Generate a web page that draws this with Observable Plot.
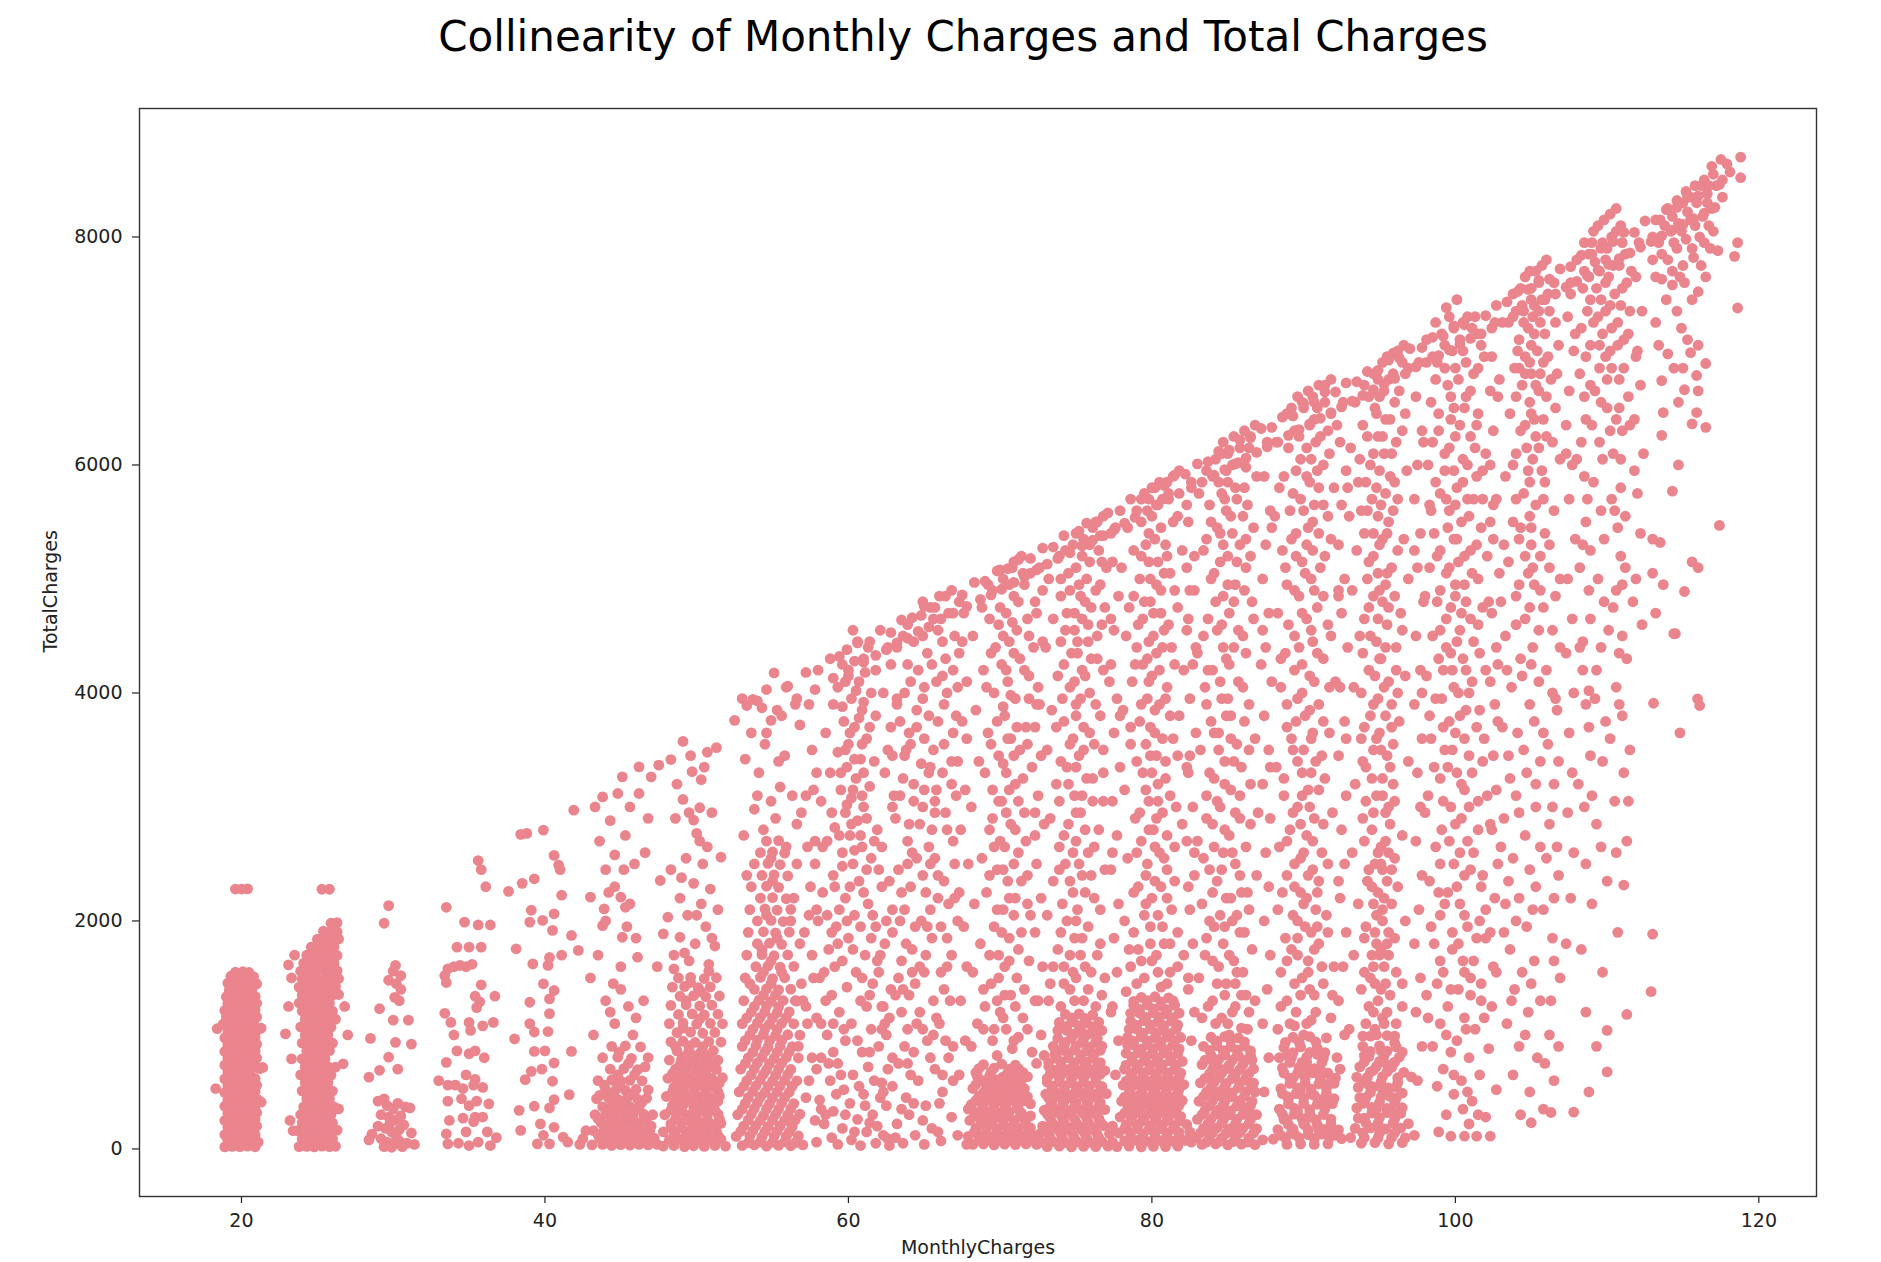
<!DOCTYPE html>
<html><head><meta charset="utf-8">
<script src="https://cdn.jsdelivr.net/npm/d3@7"></script>
<script src="https://cdn.jsdelivr.net/npm/@observablehq/plot@0.6"></script>
<style>
html,body{margin:0;padding:0;background:#fff;overflow:hidden;}
#title{box-sizing:content-box;width:1836px;padding-left:45px;height:68px;padding-top:12px;line-height:49px;font-family:"DejaVu Sans";font-size:42px;text-align:center;color:#000;white-space:nowrap;}
#chart{height:1182px;}
</style></head><body>
<div id="title">Collinearity of Monthly Charges and Total Charges</div>
<div id="chart"></div>
<script>
// [MonthlyCharges, TotalCharges], grouped by monthly-charge band
const band20 = [[18.9,18],[19.4,22],[19.9,20],[20.4,25],[20.9,19],[21.1,60],[19.1,75],[19.6,80],[20.1,70],[20.6,85],[18.9,125],[19.4,135],[19.9,128],[20.4,140],[20.9,125],[19.1,190],[19.6,185],[20.1,195],[20.6,180],[21.0,200],[18.9,250],[19.4,245],[19.9,258],[20.4,250],[20.9,262],[19.1,310],[19.6,318],[20.1,305],[20.6,315],[21.0,320],[18.9,375],[19.4,370],[19.9,380],[20.4,368],[20.9,378],[19.1,430],[19.6,440],[20.1,432],[20.6,445],[21.1,430],[18.9,495],[19.4,500],[19.9,490],[20.4,498],[20.9,505],[19.1,555],[19.6,560],[20.1,550],[20.6,565],[21.0,558],[18.9,615],[19.4,620],[19.9,612],[20.4,625],[20.9,618],[19.1,675],[19.6,680],[20.1,670],[20.6,685],[21.2,705],[18.9,735],[19.4,740],[19.9,730],[20.4,745],[20.9,738],[19.1,795],[19.6,800],[20.1,790],[20.6,805],[21.0,798],[18.9,855],[19.4,860],[19.9,850],[20.4,865],[20.9,858],[19.1,915],[19.6,920],[20.1,910],[20.6,925],[21.0,918],[18.9,975],[19.4,980],[19.9,970],[20.4,985],[20.9,978],[19.1,1035],[19.6,1040],[20.1,1030],[20.6,1045],[21.0,1038],[18.8,1095],[19.3,1100],[19.8,1090],[20.3,1105],[20.8,1098],[19.0,1155],[19.5,1160],[20.0,1150],[20.5,1165],[21.0,1158],[18.9,1215],[19.4,1220],[19.9,1210],[20.4,1225],[20.9,1218],[19.1,1275],[19.6,1280],[20.1,1270],[20.6,1285],[21.0,1278],[19.0,1335],[19.5,1340],[20.0,1330],[20.5,1345],[20.9,1338],[19.2,1395],[19.7,1400],[20.2,1390],[20.7,1405],[19.1,1455],[19.6,1460],[20.1,1450],[20.6,1465],[21.0,1448],[19.3,1515],[19.8,1525],[20.3,1520],[20.8,1510],[19.6,1550],[20.1,1555],[20.5,1548],[18.3,530],[18.4,1055],[21.4,715],[21.3,410],[21.3,1060],[19.6,2280],[20.0,2280],[20.4,2282]];

const band25 = [[23.8,20],[24.3,22],[24.8,18],[25.3,25],[25.8,20],[26.2,24],[24.0,90],[24.5,85],[25.0,95],[25.5,88],[26.0,92],[23.7,160],[24.2,165],[24.7,155],[25.2,162],[25.7,158],[26.3,165],[24.0,230],[24.5,235],[25.0,225],[25.5,232],[26.0,228],[23.9,300],[24.4,305],[24.9,295],[25.4,302],[25.9,298],[24.1,370],[24.6,375],[25.1,365],[25.6,372],[26.1,368],[24.3,440],[24.8,445],[25.3,435],[25.8,442],[24.0,510],[24.5,515],[25.0,505],[25.5,512],[26.0,508],[24.2,580],[24.7,585],[25.2,575],[25.7,582],[23.9,650],[24.4,655],[24.9,645],[25.4,652],[25.9,648],[24.2,720],[24.7,725],[25.2,715],[25.7,722],[26.2,718],[24.0,790],[24.5,795],[25.0,785],[25.5,792],[24.3,860],[24.8,865],[25.3,855],[25.8,862],[24.0,930],[24.5,935],[25.0,925],[25.5,932],[26.0,928],[24.2,1000],[24.7,1005],[25.2,995],[25.7,1002],[23.9,1070],[24.4,1075],[24.9,1065],[25.4,1072],[25.9,1068],[24.2,1140],[24.7,1145],[25.2,1135],[25.7,1142],[26.2,1138],[24.0,1210],[24.5,1215],[25.0,1205],[25.5,1212],[26.0,1208],[23.8,1280],[24.3,1285],[24.8,1275],[25.3,1282],[25.8,1278],[24.0,1350],[24.5,1355],[25.0,1345],[25.5,1352],[26.0,1348],[26.4,1355],[23.8,1420],[24.3,1425],[24.8,1415],[25.3,1422],[25.8,1418],[26.2,1425],[24.0,1490],[24.5,1495],[25.0,1485],[25.5,1492],[26.0,1488],[26.4,1495],[23.9,1560],[24.4,1565],[24.9,1555],[25.4,1562],[25.9,1558],[26.3,1565],[24.1,1630],[24.6,1635],[25.1,1625],[25.6,1632],[26.1,1628],[24.3,1700],[24.8,1705],[25.3,1695],[25.8,1702],[26.3,1698],[24.6,1770],[25.1,1775],[25.6,1765],[26.1,1772],[25.0,1840],[25.5,1845],[26.0,1835],[26.4,1842],[25.4,1910],[25.9,1915],[26.3,1905],[25.9,1980],[26.3,1985],[23.1,1614],[23.1,1250],[22.9,1010],[23.3,790],[23.2,250],[23.4,160],[26.8,1250],[26.7,747],[26.4,351],[27.0,1000],[25.3,2278],[25.8,2278],[23.5,1700],[23.3,1500]];

const band30 = [[29.7,2135],[29.4,1980],[30.15,1610],[30.0,1560],[30.5,1520],[29.7,1480],[30.2,1450],[30.5,1400],[30.1,1330],[30.4,1300],[29.1,1230],[30.0,1130],[31.0,1130],[28.5,970],[30.15,935],[31.2,920],[29.7,805],[28.4,630],[29.1,690],[30.3,700],[29.0,420],[29.4,440],[29.6,380],[30.0,350],[30.3,400],[30.8,370],[31.1,360],[29.2,300],[29.7,280],[30.1,250],[30.5,290],[29.0,200],[29.5,180],[29.9,150],[30.4,170],[30.7,210],[28.6,130],[29.2,90],[29.6,60],[30.0,40],[30.4,70],[30.9,50],[31.4,40],[29.4,20],[29.9,15],[30.6,20],[28.4,80],[31.2,140],[30.2,110],[29.8,230]];

const band35 = [[33.5,2120],[34.7,1990],[35.6,1965],[36.4,1965],[34.2,1770],[35.0,1770],[35.8,1770],[35.6,2530],[35.8,2450],[36.1,2300],[33.4,1520],[33.6,1580],[34.0,1600],[34.4,1610],[34.8,1600],[33.5,1460],[35.2,1620],[35.8,1440],[36.7,1340],[35.4,1340],[35.7,1290],[35.5,1240],[33.4,1190],[33.8,1110],[35.0,1110],[35.9,1080],[36.6,1110],[35.1,1040],[34.0,1000],[35.0,835],[35.4,860],[36.0,800],[34.2,860],[33.5,760],[34.8,650],[35.4,610],[33.0,600],[33.6,560],[34.1,560],[34.6,530],[35.3,560],[35.9,540],[33.6,420],[34.5,440],[35.0,380],[35.5,420],[36.3,396],[33.7,250],[34.6,270],[35.3,240],[35.4,280],[36.2,150],[36.8,100],[33.5,133],[33.6,45],[34.3,50],[35.0,30],[35.6,60],[36.4,30],[34.8,150],[35.9,280]];

const band40 = [[40.6,2575],[41.0,2450],[41.1,2226],[39.3,2370],[38.5,2330],[37.6,2260],[39.1,2094],[39.0,1990],[39.85,2005],[40.6,2063],[40.5,1917],[41.75,1873],[42.2,1742],[38.1,1756],[40.3,1680],[41.1,1700],[39.2,1624],[40.2,1610],[39.9,1449],[40.6,1390],[40.3,1317],[39.0,1287],[40.3,1187],[39.0,1100],[39.3,1026],[40.2,1030],[38.0,966],[39.3,856],[40.0,860],[41.75,856],[40.6,754],[39.1,681],[38.7,608],[39.8,700],[40.5,594],[41.6,477],[40.6,433],[39.3,375],[40.3,360],[38.3,339],[38.4,163],[39.7,220],[40.6,190],[39.5,45],[40.3,45],[41.2,104],[39.9,120],[41.5,60],[38.8,2768],[39.9,2797],[38.4,2760],[40.9,2490],[41.9,2972]];

const band45 = [[43.8,3088],[44.8,3118],[45.1,3264],[46.2,3352],[47.0,3264],[46.2,3118],[47.5,3367],[43.3,3000],[45.6,3000],[44.3,2880],[45.3,2750],[46.6,2600],[43.6,2700],[44.6,2580],[45.9,2500],[47.6,2355],[43.0,2209],[43.9,2106],[44.2,2250],[45.0,2209],[45.3,2120],[44.6,2300],[45.6,2150],[43.8,1959],[45.1,1857],[46.1,1682],[45.4,1950],[44.5,1450],[45.0,1600],[43.5,1700],[46.5,1300],[45.5,1250],[44.0,1300],[46.0,1150],[44.6,1100],[43.2,1000],[44.4,900],[45.3,905],[46.3,895],[43.8,800],[44.8,805],[45.7,795],[46.8,802],[44.3,700],[45.2,705],[46.1,695],[43.5,600],[44.4,605],[45.0,595],[45.6,602],[46.4,598],[44.0,520],[44.7,525],[45.3,515],[46.0,522],[46.8,518],[43.4,440],[44.2,445],[44.8,435],[45.4,442],[46.1,438],[46.7,445],[43.8,370],[44.4,375],[45.0,365],[45.6,372],[46.2,368],[43.3,300],[44.0,305],[44.6,295],[45.2,302],[45.8,298],[46.5,305],[47.1,300],[43.7,230],[44.3,235],[44.9,225],[45.5,232],[46.1,228],[46.7,235],[43.2,160],[43.9,165],[44.5,155],[45.1,162],[45.7,158],[46.3,165],[46.9,160],[43.6,95],[44.2,100],[44.8,90],[45.4,97],[46.0,93],[46.6,100],[47.2,95],[43.1,35],[43.8,40],[44.4,30],[45.0,38],[45.6,33],[46.2,40],[46.8,35],[47.4,40],[42.5,90],[42.7,160],[42.3,40],
[43.6,470],[44.5,480],[45.1,400],[45.7,480],[46.4,410],[44.1,335],[44.7,335],[45.3,265],[45.9,335],[46.5,265],[43.5,265],[44.0,195],[44.6,195],[45.2,125],[45.8,195],[46.4,125],[43.5,125],[44.1,60],[44.7,60],[45.3,60],[45.9,60],[46.5,60],[47.0,200],[44.9,560],[45.9,650],[44.8,650],[43.9,560],[45.5,750],[44.9,850],[46.6,720],[45.8,1000],[44.3,1200],[45.0,1400],[44.0,2000],[46.8,2900],[45.2,2450],[44.0,2450],[46.0,1850],[47.4,1600],[43.0,1500]];

const band50 = [[48.3,3416],[49.1,3575],[49.7,3310],[50.3,3240],[50.7,3480],[51.3,3520],[49.1,3066],[50.2,2993],[48.6,2900],[51.0,2950],[49.8,2885],[50.0,2768],[50.7,2650],[49.3,2550],[50.4,2500],[51.6,2560],[48.3,2450],[49.8,2330],[50.9,2280],[48.9,2200],[50.3,2150],[51.4,2100],[49.4,2050],[48.1,2033],[47.8,1887],[48.9,1857],[50.6,1950],[49.9,1800],[51.2,1780],[48.5,1700],[49.5,1650],[50.8,1620],[48.8,1500],[49.6,1505],[50.5,1495],[51.3,1502],[48.4,1420],[49.2,1425],[50.1,1415],[50.9,1422],[48.9,1340],[49.8,1345],[50.6,1335],[51.5,1342],[48.3,1260],[49.3,1265],[50.2,1255],[51.0,1262],[48.8,1180],[49.7,1185],[50.5,1175],[51.4,1182],[48.2,1100],[49.1,1105],[50.0,1095],[50.9,1102],[51.7,1098],[48.7,1020],[49.6,1025],[50.4,1015],[51.2,1022],[48.3,940],[49.1,945],[49.9,935],[50.8,942],[51.6,938],[48.7,860],[49.5,865],[50.3,855],[51.1,862],[48.2,780],[49.0,785],[49.8,775],[50.6,782],[51.4,778],[48.6,700],[49.3,705],[50.0,695],[50.7,702],[51.3,698],[48.1,620],[48.9,625],[49.6,615],[50.3,622],[51.0,618],[51.7,625],[48.5,540],[49.2,545],[49.9,535],[50.5,542],[51.2,538],[48.0,460],[48.8,465],[49.5,455],[50.1,462],[50.8,458],[51.5,465],[48.4,380],[49.1,385],[49.8,375],[50.4,382],[51.1,378],[47.9,300],[48.7,305],[49.4,295],[50.0,302],[50.7,298],[51.4,305],[48.3,220],[49.0,225],[49.7,215],[50.3,222],[51.0,218],[51.6,225],[47.8,150],[48.6,155],[49.3,145],[49.9,152],[50.6,148],[51.3,155],[48.2,80],[48.9,85],[49.6,75],[50.2,82],[50.9,78],[51.6,85],[47.8,25],[48.5,30],[49.2,20],[49.8,28],[50.5,22],[51.2,30],[51.9,25],
[48.5,115],[49.3,112],[50.0,118],[50.7,110],[51.4,118],[48.3,185],[49.0,188],[49.7,182],[50.4,186],[51.1,184],[48.6,262],[49.3,258],[50.0,262],[50.7,258],[51.5,262],[48.3,340],[49.0,342],[49.8,338],[50.5,342],[51.2,340],[48.6,420],[49.3,422],[50.0,418],[50.7,422],[51.4,420],[48.4,500],[49.1,502],[49.8,498],[50.6,502],[51.4,500],[48.7,580],[49.4,582],[50.1,578],[50.8,582],[51.5,580],[48.4,660],[49.2,662],[49.9,658],[50.6,662],[48.9,740],[49.6,742],[50.3,738],[51.0,742],[49.3,820],[50.0,818],[50.8,822],[48.6,900],[49.5,905],[50.4,898],[49.1,1060],[50.2,1140],[49.3,1300],[50.3,1380],[49.6,1460],[50.8,1560],[48.5,1580],[49.2,1720],[51.0,1850],[50.0,2050],[49.0,2380],[50.2,2700],[49.5,2950],[50.5,3350],[49.6,3450],[48.7,3200]];

const band55 = [[55.1,4176],[53.7,3943],[54.3,3870],[54.9,3760],[53.6,3650],[55.6,3800],[56.5,3900],[56.8,3720],[54.5,3550],[55.8,3450],[53.2,3420],[54.1,3300],[55.5,3175],[56.3,3100],[54.9,3050],[53.8,2980],[55.2,2900],[56.6,2850],[54.4,2800],[53.1,2750],[54.6,2700],[55.4,2705],[54.2,2600],[55.0,2605],[55.8,2595],[53.8,2500],[54.7,2505],[55.5,2495],[54.3,2400],[55.1,2405],[56.0,2395],[53.6,2300],[54.6,2305],[55.4,2295],[54.2,2200],[55.0,2205],[55.9,2195],[53.5,2100],[54.5,2105],[55.3,2095],[56.2,2102],[54.0,2000],[54.9,2005],[55.7,1995],[53.4,1900],[54.4,1905],[55.2,1895],[56.1,1902],[54.0,1800],[54.8,1805],[55.6,1795],[53.3,1700],[54.3,1705],[55.1,1695],[56.0,1702],[53.9,1600],[54.7,1605],[55.5,1595],[56.4,1602],[53.2,1500],[54.2,1505],[55.0,1495],[55.8,1502],[53.8,1400],[54.6,1405],[55.4,1395],[56.2,1402],[53.1,1300],[54.1,1305],[54.9,1295],[55.7,1302],[56.6,1298],[53.6,1200],[54.5,1205],[55.3,1195],[56.1,1202],[53.0,1100],[54.0,1105],[54.8,1095],[55.6,1102],[56.4,1098],[53.5,1000],[54.4,1005],[55.2,995],[56.0,1002],[56.8,998],[53.0,900],[53.9,905],[54.7,895],[55.5,902],[56.3,898],[53.4,800],[54.3,805],[55.1,795],[55.9,802],[56.7,798],[52.9,700],[53.8,705],[54.6,695],[55.4,702],[56.2,698],[53.3,600],[54.2,605],[55.0,595],[55.8,602],[56.6,598],[52.8,500],[53.7,505],[54.5,495],[55.3,502],[56.1,498],[53.2,400],[54.0,405],[54.8,395],[55.6,402],[56.4,398],[52.7,300],[53.6,305],[54.4,295],[55.2,302],[56.0,298],[56.8,305],[53.1,200],[53.9,205],[54.7,195],[55.5,202],[56.3,198],[52.6,110],[53.5,115],[54.3,105],[55.1,112],[55.9,108],[56.7,115],[53.0,30],[53.8,35],[54.6,25],[55.4,32],[56.2,28],[57.0,35],
[53.4,55],[54.2,60],[55.0,58],[55.8,62],[56.5,55],[52.9,155],[53.7,158],[54.5,152],[55.3,156],[56.1,150],[53.4,255],[54.2,250],[55.0,252],[55.8,248],[56.5,255],[53.0,350],[53.8,355],[54.6,352],[55.4,348],[56.2,352],[53.4,450],[54.2,455],[55.0,448],[55.8,452],[53.1,550],[53.9,555],[54.7,548],[55.5,552],[56.3,550],[53.6,650],[54.4,655],[55.2,648],[56.0,652],[53.2,750],[54.0,755],[54.8,748],[55.6,752],[53.7,850],[54.5,855],[55.3,848],[56.1,852],[53.2,950],[54.0,955],[54.8,948],[55.6,952],[53.7,1050],[54.5,1055],[55.3,1048],[53.3,1150],[54.2,1155],[55.0,1148],[55.9,1152],[53.8,1250],[54.6,1255],[55.4,1248],[54.4,1350],[55.2,1352],[53.5,1450],[54.9,1450],[55.6,1550],[54.4,1550],[54.9,1650],[54.3,1750],[55.3,1850],[54.6,2050],[55.0,2350],[54.9,2550],[55.9,2650],[54.0,3100],[55.4,3400],[54.6,3650],[55.9,4050],[53.0,3950],[56.2,2000],[53.3,2400],[56.5,1300]];

const band60 = [[60.3,4550],[61.0,4300],[61.8,4200],[59.6,4250],[60.0,4150],[60.7,4100],[59.3,4050],[61.5,4000],[60.2,3950],[59.0,3900],[60.9,3850],[61.8,3800],[59.7,3750],[60.4,3700],[58.5,3650],[61.2,3600],[60.0,3550],[59.3,3480],[60.8,3420],[61.7,3400],[59.9,3350],[58.8,3300],[60.5,3250],[61.4,3180],[59.5,3150],[60.2,3080],[58.2,3050],[61.0,3000],[59.8,2950],[60.6,2880],[59.1,2820],[61.9,2800],[60.1,2750],[58.6,2700],[60.9,2650],[59.6,2600],[61.5,2550],[60.3,2500],[57.8,2500],[59.0,2400],[60.7,2350],[62.2,2300],[58.3,2250],[59.8,2200],[61.3,2150],[60.4,2050],[58.0,2000],[59.2,1950],[61.8,1950],[60.0,1850],[62.4,1800],[58.7,1750],[59.6,1650],[61.1,1700],[60.5,1550],[58.1,1500],[59.9,1420],[61.6,1450],[58.9,1350],[60.8,1300],[62.3,1250],[59.4,1200],[57.9,1150],[60.2,1100],[61.5,1050],[58.6,1000],[59.8,950],[62.0,900],[60.9,850],[58.2,800],[59.3,750],[61.3,720],[60.3,650],[58.8,600],[62.2,580],[59.7,520],[61.0,480],[58.1,430],[60.1,400],[62.5,380],[59.0,330],[61.6,300],[60.6,260],[58.4,220],[59.6,180],[61.2,150],[62.3,120],[58.9,100],[60.2,80],[61.8,50],[59.3,40],[60.8,30],[57.9,60],[62.7,30],[61.4,230],
[60.6,4450],[59.9,4380],[61.3,4400],[60.4,4280],[61.1,4180],[59.8,4100],[60.5,4020],[61.0,3920],[59.6,3880],[60.7,3780],[60.1,3650],[61.4,3700],[60.9,3550],[59.8,3500],[60.4,3420],[61.0,3300],[59.5,3300],[60.3,3150],[60.9,3100],[59.9,3020],[61.2,2900],[60.2,2850],[59.4,2750],[60.8,2750],[60.4,2620],[61.2,2450],[59.6,2480],[60.1,2300],[61.0,2250],[59.4,2100],[60.8,1950],[59.9,2000],[61.5,1850],[58.9,1900],[60.3,1750],[59.1,1600],[62.0,1550],[60.9,1500],[58.5,1300],[61.2,1250],[59.7,1050],[62.5,1000],[58.2,1100],[60.6,950],[61.4,850],[59.0,850],[57.9,700],[60.7,550],[62.1,450],[59.2,480],[58.5,300],[60.4,150],[61.9,200],[57.8,250],[62.6,700],[59.8,300],[61.1,380]];

const band65 = [[66.8,4900],[66.0,4850],[67.3,4800],[65.4,4750],[66.6,4700],[64.8,4680],[63.9,4600],[65.9,4550],[67.0,4500],[64.3,4450],[63.2,4400],[65.2,4350],[66.4,4300],[62.8,4250],[64.6,4200],[65.8,4100],[67.2,4050],[63.7,4000],[64.9,3950],[66.3,3900],[65.3,3800],[63.4,3750],[64.5,3700],[66.9,3650],[64.1,3550],[65.6,3500],[62.9,3450],[64.8,3380],[66.2,3300],[63.6,3250],[65.0,3150],[67.1,3100],[64.3,3050],[65.7,2950],[63.1,2900],[64.7,2850],[66.5,2800],[63.9,2700],[65.3,2650],[64.5,2550],[67.0,2500],[63.3,2450],[65.9,2400],[64.1,2300],[65.1,2250],[66.6,2150],[63.7,2100],[64.8,2000],[66.1,1950],[62.9,1900],[65.5,1850],[64.2,1750],[66.8,1700],[63.5,1650],[65.0,1550],[64.4,1450],[66.3,1400],[63.1,1350],[65.6,1300],[64.7,1200],[62.7,1150],[66.0,1100],[63.9,1050],[65.2,950],[64.3,850],[66.6,800],[63.3,750],[65.7,700],[64.6,600],[62.9,550],[66.2,500],[63.8,450],[65.1,380],[64.0,300],[66.8,280],[63.2,220],[65.5,180],[64.4,120],[62.6,90],[66.1,70],[63.6,50],[65.0,40],[67.2,120],
[64.9,4800],[65.6,4650],[63.6,4500],[64.9,4500],[66.2,4450],[65.5,4250],[63.9,4250],[66.9,4200],[64.1,4100],[65.0,4050],[66.5,4000],[63.2,3950],[64.5,3850],[65.9,3750],[64.0,3650],[66.3,3550],[65.0,3600],[63.7,3450],[65.4,3350],[66.8,3400],[64.3,3200],[65.8,3150],[63.0,3100],[64.9,3000],[66.4,2950],[64.0,2850],[65.5,2800],[66.9,2700],[64.2,2600],[63.5,2250],[65.7,2550],[64.9,2400],[66.3,2350],[65.4,2100],[64.4,1950],[66.5,1850],[63.8,1800],[65.1,1700],[64.7,1600],[66.1,1550],[63.3,1500],[64.0,1350],[65.8,1150],[63.5,1200],[64.9,1050],[66.4,950],[63.7,900],[65.4,800],[64.1,650],[66.9,600],[63.5,350],[64.9,250],[66.0,400],[65.9,150],[63.1,100]];

const band70 = [[71.4,5200],[70.8,5100],[72.0,5050],[70.2,5000],[71.6,4950],[69.5,4900],[70.9,4850],[72.3,4800],[68.8,4750],[70.4,4700],[71.8,4650],[69.9,4600],[71.1,4550],[68.2,4500],[70.6,4450],[72.2,4400],[69.4,4350],[71.3,4300],[70.1,4250],[68.9,4200],[71.9,4150],[70.5,4100],[69.6,4000],[71.0,3950],[72.4,3900],[68.4,3850],[70.3,3800],[71.7,3700],[69.2,3650],[70.7,3600],[71.3,3500],[69.9,3450],[68.6,3400],[72.1,3350],[70.4,3300],[71.0,3200],[69.5,3150],[70.1,3050],[68.1,3000],[71.6,2950],[70.7,2850],[69.3,2800],[72.3,2750],[70.0,2700],[71.2,2600],[68.8,2550],[69.8,2450],[71.8,2400],[70.5,2350],[69.1,2250],[71.0,2200],[68.3,2150],[70.2,2100],[72.0,2050],[69.6,1950],[71.4,1900],[70.6,1850],[68.7,1800],[69.9,1700],[71.9,1650],[70.3,1600],[68.2,1550],[71.1,1500],[69.4,1450],[70.7,1350],[72.3,1300],[69.0,1250],[70.0,1200],[71.5,1150],[68.5,1100],[70.4,1050],[69.5,950],[71.2,980],[68.1,900],[70.8,880],[72.1,850],[69.8,820],[68.9,740],[70.1,745],[71.0,735],[68.4,670],[69.4,675],[70.5,665],[71.5,672],[68.8,600],[69.8,605],[70.6,595],[71.4,602],[68.2,530],[69.1,535],[69.9,525],[70.7,532],[71.6,528],[68.6,460],[69.4,465],[70.2,455],[71.0,462],[71.8,458],[68.1,390],[68.9,395],[69.6,385],[70.4,392],[71.2,388],[72.0,395],[68.5,320],[69.2,325],[69.9,315],[70.6,322],[71.4,318],[68.0,250],[68.8,255],[69.5,245],[70.2,252],[70.9,248],[71.7,255],[68.4,180],[69.1,185],[69.8,175],[70.5,182],[71.2,178],[72.0,185],[67.9,110],[68.7,115],[69.4,105],[70.1,112],[70.8,108],[71.5,115],[72.3,110],[68.2,40],[68.9,45],[69.6,35],[70.3,42],[71.0,38],[71.7,45],
[70.9,5150],[70.0,5080],[71.5,5050],[69.2,4950],[70.6,4950],[71.2,4800],[70.0,4750],[69.3,4650],[70.8,4620],[71.9,4500],[70.2,4500],[69.7,4400],[70.9,4350],[71.6,4200],[70.4,4200],[69.1,4050],[70.7,3980],[71.9,3950],[70.2,3880],[69.8,3750],[71.1,3700],[70.5,3600],[71.8,3550],[69.4,3550],[70.9,3450],[70.2,3380],[69.0,3300],[71.5,3250],[70.6,3150],[69.9,3050],[71.2,3050],[70.4,2950],[69.5,2900],[71.0,2800],[70.3,2650],[71.7,2700],[69.6,2650],[70.9,2500],[70.2,2450],[71.4,2350],[69.3,2400],[70.6,2200],[71.8,2150],[69.8,2100],[70.9,2050],[70.1,1900],[71.2,1750],[69.3,1700],[70.6,1650],[69.9,1500],[71.6,1400],[70.3,1350],[68.9,1400],[69.8,1300],[71.0,1250],[70.2,1150],[68.9,1050],[71.8,1050],[69.6,1050],[70.9,950],
[68.6,705],[69.6,708],[70.6,700],[71.2,705],[68.5,635],[69.3,640],[70.2,632],[71.0,638],[71.8,635],[68.4,565],[69.4,570],[70.3,562],[71.1,568],[68.9,495],[69.7,498],[70.5,492],[71.3,498],[68.4,425],[69.2,428],[70.0,422],[70.8,428],[71.6,425],[68.8,355],[69.6,358],[70.3,352],[71.1,358],[68.3,285],[69.1,288],[69.8,282],[70.5,288],[71.3,285],[72.0,290],[68.7,215],[69.4,218],[70.2,212],[70.9,218],[71.6,215],[68.3,145],[69.1,148],[69.8,142],[70.5,148],[71.2,145],[71.9,148],[68.6,75],[69.3,78],[70.0,72],[70.7,78],[71.4,75],[72.1,78],[67.8,40],[72.4,40]];

const band75 = [[76.8,5550],[76.1,5450],[77.3,5400],[75.5,5350],[74.8,5300],[76.5,5250],[73.9,5200],[75.9,5150],[77.0,5100],[74.5,5050],[73.2,5000],[75.2,4950],[76.3,4900],[74.0,4850],[75.6,4800],[76.9,4750],[74.9,4700],[73.5,4650],[75.8,4600],[74.3,4550],[76.4,4500],[75.1,4450],[73.0,4400],[74.7,4350],[76.0,4300],[75.4,4200],[73.8,4150],[77.2,4100],[74.6,4050],[75.9,4000],[75.0,3900],[73.4,3850],[76.6,3800],[74.2,3750],[75.5,3700],[74.8,3600],[76.2,3550],[73.1,3500],[75.2,3450],[74.4,3350],[76.8,3300],[75.7,3250],[73.7,3200],[74.9,3100],[76.1,3050],[75.3,2950],[73.3,2900],[74.5,2850],[76.5,2800],[75.0,2700],[73.9,2650],[75.8,2600],[74.3,2500],[76.9,2450],[75.4,2400],[73.5,2350],[74.8,2250],[76.2,2200],[75.1,2100],[73.1,2050],[74.4,2000],[75.8,1950],[74.9,1850],[76.6,1800],[73.8,1750],[75.3,1700],[74.2,1600],[76.0,1550],[75.0,1500],[73.3,1450],[74.6,1400],[76.7,1350],[75.5,1300],[74.0,1250],[77.3,1200],[74.3,1180],[75.2,1185],[76.1,1175],[73.9,1110],[74.8,1115],[75.7,1105],[76.5,1112],[74.4,1040],[75.3,1045],[76.2,1035],[73.8,970],[74.7,975],[75.5,965],[76.4,972],[74.2,900],[75.0,905],[75.9,895],[76.7,902],[73.6,830],[74.5,835],[75.3,825],[76.2,832],[73.2,760],[74.0,765],[74.9,755],[75.7,762],[76.6,758],[73.6,690],[74.4,695],[75.2,685],[76.0,692],[76.9,688],[73.1,620],[73.9,625],[74.7,615],[75.5,622],[76.3,618],[73.5,550],[74.3,555],[75.1,545],[75.9,552],[76.7,548],[73.0,480],[73.8,485],[74.6,475],[75.4,482],[76.2,478],[77.0,485],[73.4,410],[74.2,415],[75.0,405],[75.8,412],[76.6,408],[72.9,340],[73.7,345],[74.5,335],[75.3,342],[76.1,338],[76.9,345],[73.3,270],[74.1,275],[74.9,265],[75.7,272],[76.5,268],[72.8,200],[73.6,205],[74.4,195],[75.2,202],[76.0,198],[76.8,205],[73.2,130],[74.0,135],[74.8,125],[75.6,132],[76.4,128],[77.2,135],[72.7,60],[73.5,65],[74.3,55],[75.1,62],[75.9,58],[76.7,65],[73.1,20],[73.9,25],[74.7,18],[75.5,22],[76.3,20],[77.1,25],
[76.3,5500],[75.2,5420],[76.6,5380],[75.9,5300],[74.3,5250],[75.4,5200],[76.7,5150],[75.0,5100],[74.0,5000],[75.7,5000],[76.6,4950],[74.6,4900],[75.3,4850],[76.0,4750],[74.4,4700],[75.4,4650],[76.7,4600],[74.9,4550],[75.8,4450],[74.0,4450],[75.1,4350],[76.4,4300],[74.2,4250],[75.6,4150],[76.8,4200],[74.9,4100],[75.3,3950],[74.1,3950],[76.3,3900],[75.0,3800],[73.7,3700],[75.9,3650],[74.6,3550],[75.5,3500],[76.8,3500],[74.0,3400],[75.0,3350],[76.1,3250],[74.5,3200],[75.4,3100],[73.9,3050],[76.8,3050],[75.0,2950],[74.2,2750],[75.6,2800],[76.2,2650],[74.8,2600],[75.2,2500],[73.9,2450],[76.0,2400],[74.6,2350],[75.6,2250],[74.1,2150],[76.6,2100],[75.0,2000],[74.0,1900],[75.4,1850],[76.4,1700],[74.6,1700],[75.6,1600],[73.5,1600],[74.8,1550],[76.9,1500],[74.2,1450],[75.8,1400],[74.9,1300],[76.3,1250],[73.2,1300],
[74.7,1150],[75.6,1145],[74.4,1075],[75.2,1080],[76.1,1070],[73.8,1040],[74.9,1010],[75.8,1005],[76.7,1040],[74.3,935],[75.4,935],[76.3,935],[73.5,900],[74.0,865],[74.9,870],[75.7,860],[76.6,866],[73.7,795],[74.5,800],[75.3,792],[76.1,798],[72.9,820],[73.2,725],[74.0,730],[74.8,722],[75.6,728],[76.4,725],[73.3,655],[74.1,660],[74.9,652],[75.7,658],[76.6,655],[73.1,585],[73.9,590],[74.7,582],[75.5,588],[76.3,585],[73.4,515],[74.2,520],[75.0,512],[75.8,518],[76.6,515],[73.2,445],[74.0,450],[74.8,442],[75.6,448],[76.4,445],[73.3,375],[74.1,380],[74.9,372],[75.7,378],[76.5,375],[73.1,305],[73.9,310],[74.7,302],[75.5,308],[76.3,305],[73.4,235],[74.2,240],[75.0,232],[75.8,238],[76.6,235],[73.0,165],[73.8,170],[74.6,162],[75.4,168],[76.2,165],[73.3,95],[74.1,100],[74.9,92],[75.7,98],[76.5,95],[77.4,60],[72.6,130]];

const band80 = [[81.8,5950],[81.0,5850],[80.2,5800],[79.5,5750],[80.7,5700],[82.3,5650],[79.0,5600],[80.0,5550],[81.4,5500],[78.4,5450],[79.8,5400],[80.9,5300],[82.0,5250],[79.3,5200],[80.4,5150],[78.0,5100],[81.2,5050],[79.9,5000],[80.6,4900],[78.8,4850],[79.5,4800],[81.7,4750],[80.1,4700],[82.4,4650],[79.1,4600],[80.8,4550],[78.3,4500],[79.8,4450],[81.3,4400],[80.3,4350],[79.4,4250],[82.1,4200],[80.0,4150],[78.7,4100],[81.0,4050],[79.7,3950],[80.5,3900],[78.1,3850],[81.8,3800],[79.2,3750],[80.2,3650],[81.4,3600],[78.6,3550],[79.9,3450],[80.9,3400],[82.3,3350],[79.4,3300],[80.4,3200],[78.2,3150],[81.2,3100],[79.8,3050],[80.7,2950],[78.9,2900],[82.0,2850],[80.1,2800],[79.3,2700],[81.5,2650],[80.5,2600],[78.4,2550],[79.7,2500],[81.0,2450],[80.2,2350],[82.4,2300],[78.8,2250],[79.6,2150],[81.3,2100],[80.4,2050],[78.2,2000],[79.9,1950],[81.7,1900],[80.8,1800],[79.1,1750],[82.1,1700],[80.0,1650],[78.6,1600],[81.2,1550],[79.5,1500],[80.6,1420],[82.4,1400],[78.3,1380],[79.3,1330],[80.2,1335],[81.1,1325],[78.8,1260],[79.7,1265],[80.6,1255],[81.5,1262],[79.2,1190],[80.1,1195],[80.9,1185],[81.8,1192],[78.6,1120],[79.5,1125],[80.4,1115],[81.3,1122],[79.0,1050],[79.9,1055],[80.7,1045],[81.6,1052],[78.4,980],[79.3,985],[80.2,975],[81.0,982],[81.9,978],[78.8,910],[79.7,915],[80.5,905],[81.4,912],[78.3,840],[79.1,845],[80.0,835],[80.8,842],[81.7,838],[78.7,770],[79.5,775],[80.3,765],[81.2,772],[82.0,768],[78.2,700],[79.0,705],[79.8,695],[80.6,702],[81.5,698],[78.6,630],[79.4,635],[80.2,625],[81.0,632],[81.8,628],[78.1,560],[78.9,565],[79.7,555],[80.5,562],[81.3,558],[82.1,565],[78.5,490],[79.3,495],[80.1,485],[80.9,492],[81.7,488],[78.0,420],[78.8,425],[79.6,415],[80.4,422],[81.2,418],[82.0,425],[78.4,350],[79.2,355],[80.0,345],[80.8,352],[81.6,348],[77.9,280],[78.7,285],[79.5,275],[80.3,282],[81.1,278],[81.9,285],[78.3,210],[79.1,215],[79.9,205],[80.7,212],[81.5,208],[82.3,215],[77.8,140],[78.6,145],[79.4,135],[80.2,142],[81.0,138],[81.8,145],[78.2,70],[79.0,75],[79.8,65],[80.6,72],[81.4,68],[82.2,75],[77.7,20],[78.5,25],[79.3,18],[80.1,22],[80.9,20],[81.7,25],
[81.4,5900],[80.5,5850],[79.8,5700],[81.1,5750],[80.3,5650],[79.3,5500],[80.6,5450],[81.7,5550],[79.6,5300],[80.2,5350],[81.0,5200],[78.8,5250],[79.8,5150],[80.8,5050],[79.2,5000],[80.3,4950],[81.5,4900],[79.9,4800],[78.5,4750],[80.6,4700],[79.4,4650],[81.1,4600],[80.1,4500],[79.0,4400],[80.7,4400],[79.7,4300],[81.5,4250],[80.5,4200],[78.9,4250],[79.8,4100],[80.9,3950],[79.3,3900],[80.2,3850],[81.2,3800],[79.9,3700],[78.6,3700],[80.7,3600],[79.6,3550],[80.3,3450],[81.7,3450],[79.0,3400],[80.0,3300],[80.9,3250],[79.6,3150],[80.4,3050],[81.6,3000],[79.2,2950],[80.3,2900],[79.8,2800],[81.0,2750],[80.2,2650],[79.0,2600],[80.8,2550],[79.6,2400],[80.6,2300],[81.5,2350],[79.1,2300],[80.0,2200],[81.0,2200],[79.5,2050],[80.7,1950],[78.8,1900],[81.2,1800],[79.9,1800],[80.3,1700],[78.5,1750],[79.3,1650],[81.7,1600],[80.4,1550],[79.0,1450],[81.0,1450],
[78.8,1295],[79.7,1300],[80.6,1290],[81.4,1298],[79.2,1225],[80.1,1228],[81.0,1222],[78.6,1190],[79.6,1155],[80.5,1158],[81.4,1152],[79.0,1085],[79.9,1088],[80.8,1082],[81.7,1088],[78.5,1050],[79.4,1015],[80.3,1018],[81.2,1012],[78.8,945],[79.7,948],[80.6,942],[81.5,948],[78.4,910],[79.3,875],[80.1,878],[81.0,872],[81.8,878],[78.7,805],[79.6,808],[80.4,802],[81.3,808],[78.3,735],[79.1,738],[79.9,732],[80.7,738],[81.6,735],[78.7,665],[79.5,668],[80.3,662],[81.1,668],[81.9,665],[78.3,595],[79.1,598],[79.9,592],[80.7,598],[81.5,595],[78.6,525],[79.4,528],[80.2,522],[81.0,528],[81.8,525],[78.2,455],[79.0,458],[79.8,452],[80.6,458],[81.4,455],[78.6,385],[79.4,388],[80.2,382],[81.0,388],[81.8,385],[78.2,315],[79.0,318],[79.8,312],[80.6,318],[81.4,315],[78.6,245],[79.4,248],[80.2,242],[81.0,248],[81.8,245],[78.2,175],[79.0,178],[79.8,172],[80.6,178],[81.4,175],[78.6,105],[79.4,108],[80.2,102],[81.0,108],[81.8,105],[82.5,150],[77.4,200]];

const band85 = [[86.8,6350],[86.1,6300],[85.4,6250],[84.7,6200],[86.4,6150],[85.0,6100],[84.2,6050],[85.7,6020],[83.6,5950],[84.9,5950],[86.9,5900],[84.4,5850],[85.5,5800],[83.1,5750],[84.8,5700],[86.3,5650],[85.2,5550],[83.9,5500],[86.7,5450],[84.5,5400],[85.8,5300],[83.4,5250],[85.0,5200],[86.2,5100],[84.1,5050],[85.5,4950],[82.8,4900],[84.7,4850],[86.6,4800],[85.1,4700],[83.7,4650],[84.3,4550],[86.0,4500],[85.4,4400],[83.0,4350],[84.9,4300],[87.2,4250],[84.0,4200],[85.7,4100],[83.5,4050],[84.6,3950],[86.4,3900],[85.2,3800],[83.9,3750],[84.4,3650],[86.8,3600],[85.6,3550],[83.2,3500],[84.8,3400],[85.9,3350],[84.1,3250],[86.5,3200],[85.2,3150],[83.6,3100],[84.5,3000],[87.0,2950],[85.8,2900],[84.0,2850],[85.1,2750],[83.0,2700],[86.2,2650],[84.7,2600],[85.5,2500],[83.8,2450],[86.9,2400],[84.3,2350],[85.9,2250],[84.9,2200],[83.3,2150],[86.4,2100],[85.3,2000],[84.1,1950],[85.8,1900],[83.6,1850],[84.7,1800],[86.6,1750],[85.1,1700],[84.4,1600],[86.0,1550],[83.1,1500],[85.5,1450],[84.8,1350],[86.8,1300],[83.7,1250],[85.3,1200],[84.2,1100],[86.3,1050],[83.9,980],[84.8,985],[85.7,975],[83.4,900],[84.3,905],[85.2,895],[86.1,902],[83.9,820],[84.8,825],[85.6,815],[86.5,822],[83.3,740],[84.2,745],[85.1,735],[86.0,742],[83.8,660],[84.6,665],[85.5,655],[86.4,662],[83.2,580],[84.1,585],[84.9,575],[85.8,582],[86.7,578],[83.6,500],[84.5,505],[85.3,495],[86.2,502],[83.1,420],[84.0,425],[84.8,415],[85.7,422],[86.6,418],[83.5,340],[84.4,345],[85.2,335],[86.1,342],[83.0,260],[83.9,265],[84.7,255],[85.6,262],[86.5,258],[83.4,180],[84.3,185],[85.1,175],[86.0,182],[86.9,178],[82.9,100],[83.8,105],[84.6,95],[85.5,102],[86.4,98],[83.3,40],[84.2,45],[85.0,35],[85.9,42],[86.8,38],
[86.5,6250],[85.8,6150],[84.6,6100],[85.3,6000],[86.2,5980],[84.0,5900],[85.0,5850],[86.1,5800],[84.6,5750],[85.6,5700],[83.8,5650],[84.9,5600],[86.0,5550],[84.3,5450],[85.3,5400],[86.2,5350],[84.7,5300],[83.6,5350],[85.6,5150],[84.5,5150],[86.5,5200],[83.9,5000],[85.0,4950],[86.1,4900],[84.2,4800],[85.4,4800],[86.7,4650],[84.6,4600],[85.7,4550],[83.4,4500],[84.7,4400],[86.2,4350],[85.1,4250],[83.7,4200],[84.5,4100],[86.0,4050],[85.0,3950],[83.6,3900],[84.9,3800],[86.1,3750],[84.1,3650],[85.2,3600],[86.4,3500],[84.4,3500],[85.4,3400],[83.8,3300],[84.8,3200],[85.8,3100],[84.3,3050],[85.5,2950],[83.6,2900],[84.8,2800],[86.5,2850],[84.1,2650],[85.3,2600],[83.4,2550],[84.6,2450],[85.8,2400],[84.0,2250],[85.2,2200],[86.3,2250],[84.5,2050],[83.8,2000],[85.6,2050],[84.8,1950],[86.1,1900],[83.5,1700],[85.4,1650],[84.3,1450],[85.9,1350],[84.0,1300],[86.4,1200],[85.0,1100],[83.3,1150],
[84.3,945],[85.2,950],[86.1,940],[83.8,865],[84.7,860],[85.6,868],[86.5,860],[83.5,780],[84.4,785],[85.3,778],[86.2,782],[84.0,700],[84.9,705],[85.8,698],[86.7,702],[83.5,620],[84.4,625],[85.3,618],[86.2,622],[83.9,540],[84.8,545],[85.7,538],[86.6,542],[83.4,460],[84.3,465],[85.2,458],[86.1,462],[83.8,380],[84.7,385],[85.6,378],[86.5,382],[83.3,300],[84.2,305],[85.1,298],[86.0,302],[86.9,300],[83.7,220],[84.6,225],[85.5,218],[86.4,222],[83.2,140],[84.0,145],[84.9,138],[85.8,142],[86.7,140],[87.3,80],[82.6,60],
[83.6,60],[84.5,70],[85.4,65],[86.3,60],[83.8,220],[84.7,300],[85.6,180],[86.4,340],[83.2,420],[84.1,500],[85.0,460],[85.9,380],[86.8,500],[83.6,620],[84.5,700],[85.4,660],[86.3,600],[83.9,780],[84.8,860],[85.7,820],[86.6,780],[84.2,940],[85.1,1000],[85.9,1060],[84.6,1150],[85.5,1250],[84.9,1450],[85.6,1550],[84.0,1650],[86.2,1350]];

const band90 = [[91.8,6750],[91.0,6700],[90.3,6650],[89.6,6600],[91.4,6550],[90.0,6500],[88.9,6450],[90.7,6400],[92.2,6350],[89.4,6300],[91.1,6250],[88.3,6200],[90.2,6150],[91.7,6100],[89.8,6050],[90.9,5950],[88.7,5900],[90.4,5850],[92.0,5800],[89.3,5750],[91.3,5650],[90.0,5600],[88.1,5550],[90.6,5500],[89.5,5400],[91.8,5350],[90.2,5300],[88.6,5250],[89.9,5150],[91.1,5100],[90.5,5000],[88.9,4950],[92.3,4900],[89.7,4850],[90.9,4750],[88.3,4700],[90.2,4650],[91.6,4600],[89.4,4500],[90.6,4450],[88.8,4350],[91.3,4300],[89.9,4250],[90.4,4150],[92.1,4100],[88.5,4050],[89.6,3950],[91.0,3900],[90.1,3800],[88.9,3700],[91.7,3650],[90.5,3600],[89.3,3500],[90.8,3400],[88.2,3350],[89.9,3300],[91.4,3250],[90.3,3150],[88.7,3100],[89.6,3000],[91.9,2950],[90.7,2900],[89.1,2800],[90.2,2750],[88.4,2650],[91.2,2600],[89.8,2550],[90.6,2450],[88.9,2400],[92.3,2350],[89.4,2300],[90.9,2250],[90.0,2150],[88.3,2100],[91.5,2050],[89.6,2000],[90.5,1900],[88.8,1850],[91.0,1800],[89.2,1750],[90.3,1650],[92.0,1600],[88.5,1550],[89.9,1500],[91.3,1450],[90.7,1350],[88.9,1300],[89.5,1200],[91.8,1150],[90.2,1100],[88.3,1050],[89.3,980],[90.4,985],[91.5,975],[88.7,890],[89.8,895],[90.9,885],[89.2,800],[90.2,805],[91.3,795],[92.2,802],[88.6,710],[89.7,715],[90.7,705],[89.1,620],[90.1,625],[91.1,615],[92.1,622],[88.5,530],[89.6,535],[90.5,525],[91.5,532],[89.0,440],[90.0,445],[91.0,435],[92.0,442],[88.4,350],[89.4,355],[90.4,345],[91.4,352],[88.9,260],[89.9,265],[90.8,255],[91.8,262],[88.3,170],[89.3,175],[90.3,165],[91.3,172],[92.3,168],[88.8,95],[89.7,100],[90.7,92],[91.7,98],[88.0,85],[92.5,90],
[91.4,6700],[90.6,6600],[89.9,6550],[90.9,6500],[91.8,6450],[89.2,6500],[90.4,6350],[89.7,6250],[90.8,6200],[91.6,6300],[89.0,6150],[90.5,6050],[91.3,6000],[89.5,5950],[90.2,5900],[91.0,5800],[88.4,5800],[89.8,5700],[90.7,5650],[89.1,5600],[91.6,5550],[90.3,5450],[89.2,5350],[91.0,5400],[90.6,5250],[89.5,5200],[91.4,5200],[90.1,5050],[88.8,5100],[89.4,4900],[90.7,4900],[91.3,4850],[89.9,4700],[89.0,4600],[90.5,4550],[91.8,4500],[89.7,4400],[90.9,4350],[88.5,4300],[89.4,4200],[90.7,4100],[91.7,4050],[89.9,4000],[88.9,3900],[90.4,3850],[91.3,3750],[89.5,3750],[90.6,3650],[89.2,3600],[90.0,3500],[91.2,3450],[89.6,3400],[90.5,3300],[88.7,3250],[91.0,3150],[89.9,3100],[90.4,3000],[89.3,2950],[91.3,2850],[89.8,2850],[90.6,2700],[88.9,2700],[90.0,2600],[91.6,2500],[89.4,2500],[90.3,2400],[91.0,2350],[89.8,2250],[88.6,2250],[90.8,2100],[89.3,2050],[90.1,1950],[91.6,1900],[89.6,1850],[90.7,1750],[88.9,1650],[91.2,1600],[89.4,1450],[90.4,1400],[91.9,1350],[89.1,1100],[90.8,1200],[88.5,1250],
[89.7,935],[90.8,940],[88.8,935],[89.3,845],[90.4,848],[91.4,845],[88.4,800],[89.1,760],[90.2,762],[91.2,758],[89.6,665],[90.6,668],[91.6,665],[88.7,665],[89.1,575],[90.1,578],[91.0,572],[92.0,575],[89.5,485],[90.5,488],[91.5,485],[88.6,485],[89.0,395],[90.0,398],[90.9,392],[91.9,398],[89.4,305],[90.4,308],[91.3,302],[88.6,305],[89.0,215],[90.0,218],[90.9,212],[91.8,218],[88.5,120],[89.4,130],[90.3,125],[91.2,130],[92.1,120],
[88.9,40],[89.8,45],[90.7,40],[91.6,45],[89.2,140],[90.1,210],[91.0,170],[91.9,150],[88.7,260],[89.6,330],[90.5,280],[91.4,420],[88.9,460],[89.8,510],[90.7,470],[91.7,580],[89.3,620],[90.2,700],[91.2,680],[88.9,820],[89.9,760],[90.9,830],[90.0,1000],[89.4,1080],[90.5,1130],[89.8,1350],[90.3,1550],[89.6,1700],[90.9,1950],[90.2,2200]];

const band95 = [[96.6,7050],[95.9,6980],[95.2,6900],[96.9,6850],[94.6,6800],[95.6,6750],[94.0,6700],[96.3,6650],[95.0,6600],[93.4,6550],[94.7,6500],[96.7,6450],[95.4,6400],[93.9,6350],[94.9,6250],[96.1,6200],[93.1,6150],[95.3,6100],[94.4,6000],[96.8,5950],[95.7,5900],[93.6,5850],[94.8,5800],[96.2,5700],[95.1,5650],[94.2,5600],[93.0,5550],[95.6,5500],[94.6,5400],[96.6,5350],[95.0,5300],[93.5,5250],[94.3,5150],[95.8,5100],[94.9,5050],[96.9,5000],[95.4,4950],[93.2,4900],[94.6,4850],[95.2,4800],[96.4,4700],[94.0,4650],[95.5,4600],[93.7,4500],[94.8,4450],[96.1,4400],[95.1,4300],[94.3,4200],[96.7,4150],[95.6,4100],[93.3,4050],[94.9,3950],[95.8,3900],[94.4,3800],[96.3,3750],[95.0,3650],[93.8,3600],[94.6,3500],[95.5,3450],[96.9,3400],[94.1,3350],[95.2,3250],[93.4,3200],[94.8,3100],[96.0,3050],[95.4,2950],[93.9,2900],[94.5,2800],[96.5,2750],[95.1,2650],[93.2,2600],[94.7,2500],[95.8,2450],[94.2,2350],[96.2,2300],[95.3,2200],[93.6,2150],[94.8,2050],[96.7,2000],[95.6,1900],[94.0,1850],[95.1,1750],[93.3,1700],[94.6,1600],[96.1,1550],[95.4,1450],[93.8,1400],[94.9,1300],[96.5,1250],[95.2,1150],[94.1,1100],[93.0,1050],[94.4,990],[95.5,995],[93.9,900],[95.0,905],[96.1,895],[94.3,810],[95.3,815],[96.3,805],[93.7,720],[94.8,725],[95.8,715],[94.2,630],[95.2,635],[96.2,625],[97.1,632],[93.6,540],[94.6,545],[95.6,535],[94.1,450],[95.1,455],[96.1,445],[93.5,360],[94.5,365],[95.5,355],[96.5,362],[94.0,270],[95.0,275],[96.0,265],[93.4,180],[94.4,185],[95.4,175],[96.4,182],[93.1,100],[94.0,98],[94.9,95],[95.8,100],[96.7,97],
[96.2,7000],[95.5,6950],[96.5,6900],[94.9,6750],[95.9,6800],[94.3,6600],[95.3,6650],[96.0,6550],[94.8,6450],[95.7,6400],[96.5,6300],[94.2,6250],[95.2,6250],[95.8,6100],[94.6,6100],[93.7,6050],[95.0,5950],[96.0,5850],[94.1,5850],[95.4,5750],[94.5,5700],[95.9,5600],[93.8,5600],[94.9,5550],[95.5,5400],[94.0,5400],[95.2,5350],[96.2,5250],[94.6,5200],[95.5,5050],[94.2,5000],[95.0,4900],[96.0,4850],[94.3,4750],[95.6,4750],[94.9,4650],[96.5,4550],[94.4,4500],[95.4,4400],[93.9,4350],[95.0,4300],[96.1,4200],[94.7,4150],[95.3,4050],[93.8,4000],[96.2,4000],[94.6,3900],[95.4,3800],[94.0,3700],[95.8,3700],[94.8,3600],[95.9,3550],[95.1,3500],[93.9,3400],[95.7,3350],[94.5,3250],[95.9,3200],[95.2,3100],[94.1,3050],[95.6,3000],[94.6,2950],[95.7,2850],[94.0,2700],[95.4,2700],[94.9,2600],[96.0,2550],[95.2,2450],[94.3,2450],[95.5,2350],[94.9,2250],[95.8,2150],[94.6,2150],[95.2,2000],[94.1,1950],[96.0,1850],[94.8,1800],[95.6,1700],[94.5,1700],[95.3,1600],[94.0,1550],[96.5,1450],[94.7,1450],[95.7,1350],[94.3,1250],[95.5,1200],[96.1,1100],[94.7,1050],
[93.9,990],[96.0,990],[94.4,855],[95.5,858],[96.5,850],[94.0,765],[95.0,768],[96.0,762],[93.5,630],[94.4,675],[95.5,678],[96.6,672],[93.9,585],[95.1,590],[96.2,582],[94.4,495],[95.4,498],[96.5,490],[93.7,450],[94.0,405],[95.0,408],[96.0,402],[94.5,315],[95.5,318],[96.4,312],[93.6,270],[94.9,225],[95.9,228],[96.9,222],[93.9,140],[95.0,140],[96.0,140],[97.3,120],
[93.8,50],[94.7,55],[95.6,45],[96.5,55],[94.1,230],[95.0,180],[95.9,320],[93.9,400],[94.8,350],[95.7,460],[94.3,560],[95.2,520],[96.1,540],[94.6,690],[95.5,740],[94.0,820],[95.1,860],[96.0,930],[94.8,1000],[95.3,1100],[94.6,1200],[95.1,1400],[94.4,1500],[95.0,1700],[95.5,1800],[94.7,1900],[95.2,2100],[94.5,2300],[95.1,2500],[95.6,2600]];

const band100 = [[100.1,7450],[99.4,7380],[100.8,7300],[98.7,7250],[99.9,7200],[101.5,7150],[98.1,7100],[99.3,7050],[100.5,7000],[101.9,6950],[98.8,6900],[100.0,6850],[101.2,6800],[99.5,6700],[102.3,6650],[100.7,6600],[98.4,6550],[99.9,6500],[101.5,6450],[100.3,6350],[98.9,6300],[101.0,6250],[99.6,6150],[102.0,6100],[100.5,6050],[98.2,6000],[99.3,5950],[101.4,5900],[100.1,5800],[99.0,5750],[100.8,5700],[102.5,5650],[99.6,5600],[100.4,5500],[101.7,5450],[98.6,5400],[99.9,5350],[101.0,5250],[100.2,5150],[98.3,5100],[99.4,5050],[101.5,5000],[100.6,4950],[99.0,4900],[100.0,4850],[102.2,4800],[99.7,4750],[101.0,4650],[100.3,4550],[98.5,4500],[99.4,4400],[101.6,4350],[100.5,4300],[99.8,4200],[98.1,4150],[101.1,4100],[100.2,4000],[99.1,3950],[102.6,3900],[100.7,3850],[99.6,3750],[101.4,3700],[100.0,3650],[98.4,3600],[99.3,3500],[100.9,3450],[101.8,3400],[100.1,3300],[99.0,3250],[100.6,3150],[98.2,3100],[101.5,3050],[99.7,3000],[100.4,2900],[102.3,2850],[99.1,2800],[100.8,2700],[98.7,2650],[101.2,2600],[99.9,2500],[100.6,2400],[98.3,2350],[101.7,2300],[99.5,2250],[100.3,2150],[102.0,2100],[99.0,2050],[100.8,1950],[101.4,1850],[98.6,1800],[99.8,1750],[100.5,1650],[102.5,1600],[99.2,1550],[101.0,1500],[100.2,1400],[98.1,1350],[101.7,1300],[99.5,1250],[100.6,1150],[99.0,1100],[101.3,1050],[100.1,950],[98.5,900],[102.2,880],[99.7,850],[100.9,800],[99.2,700],[101.6,650],[100.4,600],[98.8,550],[102.7,520],[99.9,480],[101.1,420],[100.5,350],[99.4,300],[102.0,280],[100.9,220],[99.7,112],[100.6,112],[101.4,112],[102.3,112],[98.9,150],
[99.6,7300],[100.5,7250],[101.1,7200],[99.1,7150],[100.3,7100],[101.7,7050],[99.8,7000],[98.5,6950],[100.7,6900],[99.3,6850],[101.5,6850],[100.2,6750],[98.7,6750],[101.0,6650],[99.7,6600],[100.6,6500],[98.9,6450],[101.4,6350],[99.7,6400],[100.0,6250],[98.5,6200],[101.3,6150],[99.3,6100],[100.8,6000],[101.8,5950],[99.9,5950],[98.7,5850],[100.5,5850],[99.4,5700],[101.2,5700],[100.0,5650],[98.4,5600],[100.9,5550],[99.5,5450],[100.1,5350],[101.4,5300],[99.0,5250],[100.6,5200],[99.6,5100],[101.1,5050],[100.0,4950],[98.8,4800],[100.7,4800],[99.4,4650],[100.4,4700],[101.5,4600],[99.0,4550],[100.1,4450],[101.2,4450],[99.7,4350],[100.7,4200],[99.2,4200],[100.9,4000],[99.9,4050],[98.7,3950],[100.3,3800],[101.6,3850],[99.2,3700],[100.6,3600],[99.8,3500],[101.1,3300],[99.5,3350],[100.4,3200],[99.2,3050],[100.9,3000],[100.0,2850],[101.5,2800],[99.6,2700],[100.3,2600],[99.0,2500],[101.0,2450],[100.1,2300],[99.3,2150],[100.6,2050],[101.6,2000],[99.8,1900],[100.2,1800],[99.0,1650],[101.2,1650],[100.6,1550],[99.7,1400],[101.0,1350],[99.4,1000],[100.7,1050],[101.9,1150],[99.9,650],[100.8,500],[101.5,300]];

const band105 = [[106.0,7800],[105.3,7700],[104.6,7650],[106.5,7600],[105.0,7550],[103.8,7500],[105.7,7450],[104.4,7400],[106.2,7350],[105.1,7300],[103.5,7250],[104.8,7200],[105.9,7150],[104.2,7100],[106.8,7050],[105.4,7000],[104.6,6950],[105.8,6900],[103.9,6850],[105.0,6800],[106.3,6750],[104.4,6700],[105.5,6650],[104.9,6550],[106.6,6500],[103.6,6450],[105.2,6400],[104.3,6300],[106.0,6250],[105.5,6150],[104.0,6100],[106.9,6050],[104.8,5950],[103.3,5900],[105.9,5850],[104.5,5750],[105.3,5650],[106.5,5600],[103.8,5500],[105.0,5450],[104.2,5350],[106.2,5300],[105.6,5200],[103.5,5150],[104.8,5050],[106.9,5000],[105.2,4950],[104.0,4850],[105.8,4750],[104.6,4650],[106.4,4550],[103.3,4500],[105.1,4400],[104.3,4300],[106.0,4200],[105.5,4100],[103.7,4050],[104.9,3900],[106.7,3850],[105.2,3750],[104.1,3650],[106.1,3550],[103.5,3450],[105.6,3400],[104.7,3300],[106.5,3200],[104.0,3100],[105.3,3000],[103.2,2900],[106.2,2850],[104.6,2750],[105.6,2650],[103.8,2550],[104.9,2450],[106.8,2400],[105.3,2300],[104.2,2200],[103.3,2150],[105.8,2100],[104.7,1950],[106.4,1850],[103.6,1750],[105.2,1650],[104.4,1550],[106.9,1500],[103.9,1400],[105.6,1300],[104.8,1200],[103.4,1100],[106.2,1000],[104.2,900],[105.4,800],[103.8,650],[106.5,600],[104.9,500],[105.8,350],[104.3,300],[106.3,320],[105.0,230],[107.8,323],
[105.7,7750],[104.9,7700],[105.5,7600],[104.3,7550],[106.1,7500],[105.0,7450],[104.0,7350],[105.5,7350],[106.6,7250],[104.5,7250],[105.6,7250],[105.2,7150],[104.1,7000],[105.0,7050],[106.1,6950],[104.9,6900],[105.6,6800],[104.2,6850],[106.7,6800],[104.6,6800],[105.3,6700],[106.0,6600],[104.0,6600],[105.0,6450],[105.8,6400],[104.6,6350],[105.3,6250],[106.4,6200],[104.7,6150],[105.1,6050],[103.8,6000],[105.7,5950],[104.9,5850],[104.0,5700],[105.8,5700],[104.9,5550],[104.3,5450],[105.9,5400],[105.0,5300],[104.6,5200],[106.2,5100],[105.1,5100],[104.2,4950],[105.6,4900],[104.9,4750],[104.0,4600],[105.5,4550],[105.0,4250],[104.4,4150],[106.4,4000],[105.8,3650],[104.5,3500],[105.3,3200],[104.2,2950],[106.0,2550],[105.1,2100],[104.0,2000],[106.5,1650],[105.0,1450],[104.6,1000],[105.9,750]];

const band110 = [[110.6,8250],[109.8,8150],[110.9,8100],[109.1,8050],[110.3,8000],[108.5,7950],[109.6,7900],[111.2,7850],[108.0,7800],[109.2,7780],[110.4,7750],[111.6,7700],[108.8,7650],[109.9,7600],[111.0,7550],[107.6,7500],[108.9,7450],[110.2,7400],[111.5,7350],[109.4,7300],[110.7,7250],[108.3,7200],[109.7,7150],[111.1,7100],[108.9,7050],[110.2,7000],[111.9,6950],[109.5,6850],[108.2,6800],[110.8,6750],[109.2,6650],[111.4,6600],[110.0,6500],[108.6,6400],[111.0,6300],[109.5,6200],[110.4,6100],[108.0,6050],[111.8,5950],[109.1,5850],[110.3,5700],[111.2,5550],[108.6,5500],[109.8,5350],[110.9,5200],[108.2,5100],[109.4,5000],[110.6,4900],[111.7,4800],[108.9,4650],[110.1,4550],[109.6,4400],[111.3,4300],[108.4,4200],[110.6,4050],[108.8,4020],[109.2,3950],[111.0,3800],[108.8,3700],[110.2,3600],[109.7,3400],[111.1,3300],[108.1,3200],[110.5,3050],[109.3,2850],[111.3,2700],[108.6,2500],[110.0,2350],[111.1,2315],[109.0,2150],[110.7,1900],[108.3,1750],[109.7,1550],[111.3,1180],[110.0,1040],[108.6,1200],[109.3,900],[110.0,676],[108.8,500],
[110.2,8200],[109.4,8100],[110.6,8050],[109.0,7950],[110.0,7900],[111.0,7950],[108.8,7850],[109.9,7800],[110.8,7750],[108.5,7700],[109.5,7700],[110.1,7650],[111.3,7600],[109.3,7550],[108.4,7550],[110.5,7500],[109.6,7450],[110.9,7400],[108.7,7350],[109.9,7350],[109.1,7250],[110.3,7200],[111.4,7150],[109.5,7050],[110.7,7050],[108.6,6950],[109.9,6950],[111.1,6850],[110.3,6850],[108.9,6700],[110.0,6750],[109.6,6550],[110.8,6500],[109.0,6350],[110.2,6300],[111.5,6350],[109.7,6050],[108.5,5900],[110.9,5800],[109.6,5600],[110.7,5450],[108.9,5250],[111.0,4950],[109.8,4800],[108.4,4450],[110.8,4350],[109.3,4200],[111.5,3500],[109.0,3100],[110.6,2600]];

const band115 = [[118.8,8700],[117.5,8680],[118.1,8570],[116.9,8620],[118.8,8520],[117.2,8450],[116.4,8500],[115.8,8450],[116.6,8380],[117.6,8350],[115.2,8400],[114.6,8320],[115.9,8300],[116.9,8250],[114.0,8250],[115.3,8220],[116.3,8180],[113.5,8150],[114.7,8120],[115.8,8100],[117.0,8050],[114.2,8050],[113.0,8000],[115.2,7980],[116.4,7950],[117.3,7880],[114.6,7900],[113.6,7850],[115.7,7820],[118.6,7950],[118.4,7830],[116.2,7750],[114.3,7700],[113.2,7650],[115.1,7600],[113.6,7630],[116.0,7520],[114.3,7580],[118.6,7377],[114.9,7200],[113.4,7050],[114.0,6975],[115.5,6985],[116.5,6890],[115.0,6850],[115.9,6785],[113.6,6740],[115.1,6660],[113.7,6460],[115.9,6460],[115.6,6360],[116.5,6330],[113.6,6260],[114.7,6000],[114.3,5770],[117.4,5470],[113.5,5320],[115.6,5150],[113.0,5050],[115.1,4890],[113.2,4700],[114.4,4520],[113.06,3910],[115.96,3949],[116.1,3890],[113.0,1884],[112.9,1380],
[117.9,8640],[117.0,8550],[116.2,8450],[117.6,8500],[115.5,8350],[116.6,8300],[115.0,8300],[114.3,8180],[115.5,8150],[116.7,8100],[113.8,8100],[114.9,8050],[116.1,8000],[113.4,7950],[114.4,7950],[115.6,7900],[116.8,7900],[114.0,7800],[115.0,7750],[113.0,7800],[116.5,7650],[114.8,7650],[113.9,7450],[115.6,7450],[114.6,7350],[113.2,7250],[115.3,7100],[116.0,7050],[114.4,6850],[116.0,6650],[114.7,6550],[113.0,5350],[116.0,5100],[114.5,4520],[113.7,4950],[114.8,3650]];

const envelope = [[52.5,3760],[53.3,3890],[54.0,3930],[54.6,4030],[56.0,4060],[57.2,4180],[58.0,4200],[58.8,4300],[59.4,4320],[60.6,4440],[61.4,4450],[62.1,4550],[62.8,4530],[63.5,4640],[64.2,4660],[65.0,4760],[65.7,4750],[66.4,4850],[67.5,4860],[68.3,4970],[69.0,4980],[69.8,5070],[70.5,5090],[71.2,5170],[72.0,5180],[72.8,5270],[73.5,5280],[74.2,5380],[75.0,5400],[75.7,5490],[76.4,5500],[77.1,5580],[77.9,5600],[78.6,5700],[79.3,5700],[80.0,5800],[80.8,5820],[81.5,5910],[82.2,5920],[83.0,6010],[83.7,6030],[84.4,6120],[85.1,6130],[85.8,6220],[86.5,6240],[87.2,6320],[87.9,6330],[88.6,6420],[89.3,6430],[90.0,6540],[90.7,6550],[91.4,6640],[92.1,6640],[92.8,6720],[93.5,6730],[94.2,6820],[94.9,6830],[95.6,6920],[96.3,6940],[97.0,7020],[97.8,7030],[98.5,7120],[99.2,7130],[99.9,7220],[100.6,7230],[101.3,7300],[102.0,7310],[102.7,7400],[103.4,7430],[104.1,7520],[104.8,7540],[105.5,7620],[106.2,7630],[106.9,7720],[107.6,7740],[108.3,7840],[109.0,7850],[109.7,7950],[110.4,7960],[111.1,8040],[111.8,8040],[112.5,8140],[113.2,8150],[113.9,8240],[114.6,8260],[115.3,8350],[116.0,8360],[116.7,8450],[117.4,8460]];

const envelope2 = [[55.3,3850],[56.6,3950],[57.8,4030],[59.0,4130],[60.0,4200],[61.0,4270],[61.8,4330],[62.5,4380],[63.2,4440],[63.9,4480],[64.6,4540],[65.3,4580],[66.1,4650],[66.9,4700],[67.8,4760],[68.7,4820],[69.4,4860],[70.1,4910],[70.9,4970],[71.6,5020],[72.4,5080],[73.1,5130],[73.8,5180],[74.6,5230],[75.4,5290],[76.1,5340],[76.8,5380],[77.5,5430],[78.2,5490],[78.9,5540],[79.7,5600],[80.4,5650],[81.1,5700],[81.8,5750],[82.6,5800],[83.3,5850],[84.1,5910],[84.8,5960],[85.5,6010],[86.2,6060],[86.9,6110],[87.6,6160],[88.2,6200],[89.0,6260],[89.7,6310],[90.4,6360],[91.1,6410],[91.8,6460],[92.5,6510],[93.2,6560],[93.9,6610],[94.6,6660],[95.3,6710],[96.0,6760],[96.7,6800],[97.4,6860],[98.1,6900],[98.9,6960],[99.6,7010],[100.3,7060],[101.0,7110],[101.7,7150],[102.4,7200],[103.1,7250],[103.8,7300],[104.5,7350],[105.2,7400],[105.9,7450],[106.6,7500],[107.3,7560],[108.0,7610],[108.7,7660],[109.4,7710],[110.1,7760],[110.8,7810],[111.5,7860],[112.2,7910],[112.9,7960],[113.6,8010],[114.3,8060],[115.0,8110],[115.7,8160],[116.4,8210],[117.1,8260]];

const gapFill = [[57.4,3900],[57.6,3500],[57.2,3100],[57.8,2700],[57.5,2300],[57.1,1900],[57.7,1500],[57.3,1100],[57.6,800],[57.2,450],[57.9,3300],[57.4,2050],[57.0,1300],
[62.6,4400],[62.3,4000],[62.8,3700],[62.4,3300],[62.9,3000],[62.2,2650],[62.7,2350],[62.5,2000],[62.1,1700],[62.8,1400],[62.4,1100],[62.9,800],[62.3,500],[62.6,3500],[62.9,2100],[62.2,1250],
[67.6,4700],[67.3,4350],[67.8,4100],[67.5,3750],[67.2,3400],[67.7,3150],[67.4,2800],[67.9,2500],[67.3,2250],[67.6,1950],[67.8,1600],[67.4,1300],[67.7,950],[67.3,650],[67.9,350],[67.5,4450],[67.8,3600],[67.2,2000],
[72.6,5100],[72.4,4700],[72.8,4450],[72.5,4050],[72.3,3700],[72.7,3450],[72.5,3100],[72.9,2850],[72.4,2500],[72.7,2200],[72.3,1900],[72.8,1600],[72.5,1300],[72.7,1000],[72.4,750],[72.8,4900],[72.6,3900],[72.3,2950],
[77.6,5450],[77.4,5150],[77.8,4850],[77.5,4550],[77.3,4250],[77.7,3950],[77.5,3650],[77.9,3350],[77.4,3050],[77.7,2750],[77.3,2450],[77.8,2150],[77.5,1850],[77.7,1550],[77.4,1250],[77.8,950],[77.6,650],[77.3,4650],[77.9,3800],[77.4,2600],
[82.6,5850],[82.4,5500],[82.8,5200],[82.5,4900],[82.3,4550],[82.7,4250],[82.5,3950],[82.9,3650],[82.4,3300],[82.7,3000],[82.3,2700],[82.8,2400],[82.5,2100],[82.7,1800],[82.4,1500],[82.8,1200],[82.6,950],[82.3,5100],[82.9,4400],[82.5,3450],[82.8,2600],
[87.6,6200],[87.4,5900],[87.8,5600],[87.5,5300],[87.3,5000],[87.7,4700],[87.5,4400],[87.9,4100],[87.4,3800],[87.7,3500],[87.3,3200],[87.8,2900],[87.5,2600],[87.7,2300],[87.4,2000],[87.8,1700],[87.6,1400],[87.3,1100],[87.7,800],[87.4,500],[87.9,5450],[87.3,4550],[87.8,3350],
[92.6,6550],[92.4,6200],[92.8,5950],[92.5,5650],[92.3,5300],[92.7,5000],[92.5,4700],[92.9,4400],[92.4,4050],[92.7,3750],[92.3,3450],[92.8,3100],[92.5,2800],[92.7,2500],[92.4,2200],[92.8,1900],[92.6,1600],[92.3,1300],[92.7,1000],[92.4,700],[92.9,5800],[92.3,4850],[92.8,3600],
[97.6,6900],[97.4,6600],[97.8,6300],[97.5,6000],[97.3,5700],[97.7,5400],[97.5,5100],[97.9,4800],[97.4,4500],[97.7,4200],[97.3,3900],[97.8,3600],[97.5,3300],[97.7,3000],[97.4,2700],[97.8,2400],[97.6,2100],[97.3,1800],[97.7,1500],[97.4,1200],[97.8,900],[97.5,600],[97.9,6200],[97.3,5250],[97.8,4000],
[102.6,7250],[102.4,6950],[102.8,6600],[102.5,6300],[102.3,6000],[102.7,5700],[102.5,5350],[102.9,5050],[102.4,4700],[102.7,4400],[102.3,4100],[102.8,3750],[102.5,3450],[102.7,3150],[102.4,2800],[102.8,2500],[102.6,2200],[102.3,1900],[102.7,1550],[102.4,1250],[102.9,6750],[102.3,5500],[102.8,4250],
[107.6,7600],[107.4,7300],[107.8,7000],[107.5,6650],[107.3,6350],[107.7,6000],[107.5,5700],[107.9,5350],[107.4,5000],[107.7,4650],[107.3,4350],[107.8,4000],[107.5,3650],[107.7,3300],[107.4,2950],[107.8,2600],[107.6,2200],[107.3,1800],[107.9,7150],[107.3,6100],
[112.1,7950],[111.9,7650],[112.3,7350],[112.0,7000],[112.2,6700],[111.8,6400],[112.4,6100],[112.0,5750],[112.2,5400],[111.9,5000],[112.3,4600]];

const midFill = [[56.6,2500],[57.3,2650],[56.4,2200],[57.9,2100],[56.8,1800],[57.6,1700],[56.9,1450],[57.2,1250],[56.7,900],[57.4,600],[58.2,350],[56.9,2950],[57.7,3150],[58.9,2950],[58.3,2650],[59.1,2300],[58.6,2050],[59.3,1800],[58.4,1550],[59.0,1100],[58.7,750],[59.5,650],[61.7,2700],[62.0,2450],[61.6,2050],[61.9,1650],[61.4,1350],[62.2,1050],[61.7,600],[63.2,3900],[63.8,3500],[63.4,3100],[63.9,2500],[63.4,2000],[64.2,1550],[63.6,1400],[64.5,1100],[63.9,750],[64.3,400],[65.3,3300],[65.7,3050],[65.4,2500],[65.9,2200],[65.2,1950],[66.5,1600],[65.6,1000],[66.2,650],[66.9,900],[66.7,1300],[67.0,2200],[66.8,3200],[67.1,3800],[66.2,4150],
[98.3,5650],[98.8,5200],[98.0,4850],[98.9,4300],[98.3,3800],[98.6,3350],[98.0,2950],[98.9,2250],[98.4,1950],[98.8,1450],[98.2,1150],[101.8,5700],[102.1,5200],[101.8,4750],[102.0,4200],[101.9,3600],[102.1,3100],[101.8,2400],[102.0,1850],[101.7,1450],[103.2,5300],[103.0,4800],[103.4,4200],[103.1,3700],[103.6,3250],[103.0,2650],[103.5,2350],[103.2,1900],[103.7,1300],[106.6,4850],[106.9,4400],[106.6,3950],[106.8,3400],[106.4,3000],[106.7,2650],[106.5,2200],[106.3,1300],[106.8,900],[108.5,6600],[108.3,6200],[108.7,5700],[108.4,5300],[108.8,4900],[108.2,4400],[108.6,3900],[108.9,3450],[108.5,3000],[110.6,6400],[110.9,6050],[110.5,5600],[111.2,5100],[110.4,4750],[111.0,4500],[110.8,3900],[109.9,3750],[111.4,3050],[109.6,2650]];

const bands = [band20, band25, band30, band35, band40, band45, band50, band55, band60, band65, band70, band75, band80, band85, band90, band95, band100, band105, band110, band115, envelope, envelope2, gapFill, midFill];
const xTicks = [20, 40, 60, 80, 100, 120];
const yTicks = [0, 2000, 4000, 6000, 8000];
const xLabel = "MonthlyCharges";
const yLabel = "TotalCharges";

const points = bands.flat().map(([m, t]) => ({MonthlyCharges: m, TotalCharges: t}));

const chart = Plot.plot({
  width: 1881,
  height: 1182,
  marginTop: 28,
  marginBottom: 66,
  marginLeft: 139,
  marginRight: 65,
  style: {fontFamily: "DejaVu Sans", fontSize: "19px", color: "#222", background: "#fff", overflow: "visible"},
  x: {domain: [13.28, 123.8]},
  y: {domain: [-417, 9127]},
  marks: [
    Plot.dot(points, {x: "MonthlyCharges", y: "TotalCharges", r: 5.4, fill: "#ea848d", stroke: "none"}),
    Plot.axisX({ticks: xTicks, tickSize: 7, tickPadding: 10, fontSize: 19, label: null, strokeWidth: 1.2}),
    Plot.axisY({ticks: yTicks, tickSize: 7, tickPadding: 10, fontSize: 19, label: null, strokeWidth: 1.2, tickFormat: d => String(d)}),
    Plot.text([xLabel], {text: d => d, frameAnchor: "bottom", dy: 51, lineAnchor: "middle", fontSize: 19, fill: "#222"}),
    Plot.text([yLabel], {text: d => d, frameAnchor: "left", dx: -89, rotate: -90, lineAnchor: "middle", fontSize: 19, fill: "#222"}),
    Plot.frame({stroke: "#333", strokeWidth: 1.4})
  ]
});
document.getElementById("chart").appendChild(chart);
</script>
</body></html>
